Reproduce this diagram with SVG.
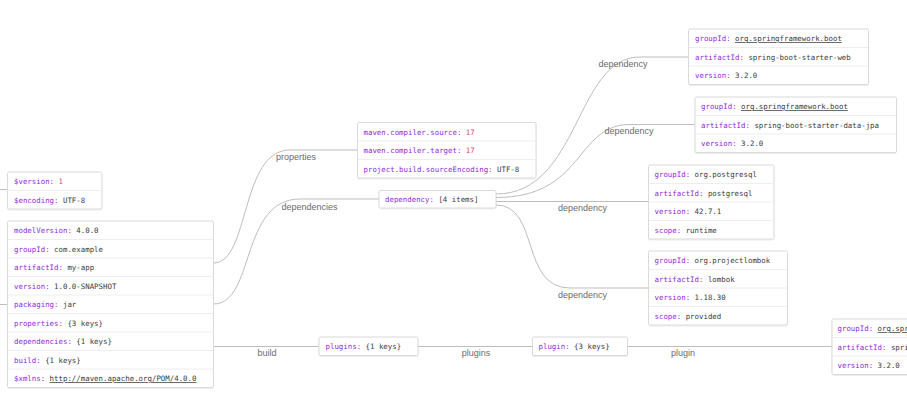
<svg xmlns="http://www.w3.org/2000/svg" width="907" height="414" viewBox="0 0 907 414">
<defs>
<filter id="sh" x="-5%" y="-5%" width="110%" height="120%">
<feDropShadow dx="0" dy="0.6" stdDeviation="0.6" flood-color="#000" flood-opacity="0.12"/>
</filter>
</defs>
<style>
.box{fill:#fff;stroke:#dadada;stroke-width:1;filter:url(#sh)}
.div{stroke:#eeeeee;stroke-width:1}
.t{font-family:"DejaVu Sans Mono","Liberation Mono",monospace;font-size:7.4px;fill:#3a3a3a}
.k{fill:#9128e0}
.n{fill:#e8437a}
.u{text-decoration:underline}
.e{fill:none;stroke:#bdbdbd;stroke-width:1}
.l{font-family:"Liberation Sans","DejaVu Sans",sans-serif;font-size:9px;fill:#6b6b6b;text-anchor:middle}
</style>
<rect width="907" height="414" fill="#fff"/>
<g id="connectors">
<path class="e" d="M0,189.5 L7.5,189.5"/>
<path class="e" d="M0,304.5 L7.5,304.5"/>
<path class="e" d="M213.5,263 C250,263 240,150 290,150 L357.5,150"/>
<path class="e" d="M213.5,304 C255,304 240,199 300,199 L379,199"/>
<path class="e" d="M213.5,346.5 L319,346.5"/>
<path class="e" d="M418,346.5 L532.5,346.5"/>
<path class="e" d="M627.5,346.5 L832,346.5"/>
<path class="e" d="M496,194 C580,194 575,57 640,57 L688.5,57"/>
<path class="e" d="M496,197.5 C585,197.5 575,124.5 630,124.5 L695,124.5"/>
<path class="e" d="M496,201.5 L648.5,201.5"/>
<path class="e" d="M496,205 C540,205 520,288 570,288 L648.5,288"/>
<text class="l" x="296" y="160">properties</text>
<text class="l" x="309.5" y="210">dependencies</text>
<text class="l" x="623" y="67">dependency</text>
<text class="l" x="629" y="134">dependency</text>
<text class="l" x="582.5" y="211">dependency</text>
<text class="l" x="582.5" y="298">dependency</text>
<text class="l" x="267" y="356">build</text>
<text class="l" x="476" y="356">plugins</text>
<text class="l" x="683" y="356">plugin</text>
</g>
<g id="node-version">
<rect class="box" x="7.5" y="172" width="94.5" height="37" rx="1.5"/>
<line class="div" x1="8" y1="190.5" x2="101.5" y2="190.5"/>
<text class="t" x="14" y="184"><tspan class="k">$version: </tspan><tspan class="n">1</tspan></text>
<text class="t" x="14" y="202.5"><tspan class="k">$encoding: </tspan>UTF-8</text>
</g>
<g id="node-project">
<rect class="box" x="7.5" y="221" width="206" height="166.5" rx="1.5"/>
<line class="div" x1="8" y1="239.5" x2="213" y2="239.5"/>
<line class="div" x1="8" y1="258" x2="213" y2="258"/>
<line class="div" x1="8" y1="276.5" x2="213" y2="276.5"/>
<line class="div" x1="8" y1="295" x2="213" y2="295"/>
<line class="div" x1="8" y1="313.5" x2="213" y2="313.5"/>
<line class="div" x1="8" y1="332" x2="213" y2="332"/>
<line class="div" x1="8" y1="350.5" x2="213" y2="350.5"/>
<line class="div" x1="8" y1="369" x2="213" y2="369"/>
<text class="t" x="14" y="233"><tspan class="k">modelVersion: </tspan>4.0.0</text>
<text class="t" x="14" y="251.5"><tspan class="k">groupId: </tspan>com.example</text>
<text class="t" x="14" y="270"><tspan class="k">artifactId: </tspan>my-app</text>
<text class="t" x="14" y="288.5"><tspan class="k">version: </tspan>1.0.0-SNAPSHOT</text>
<text class="t" x="14" y="307"><tspan class="k">packaging: </tspan>jar</text>
<text class="t" x="14" y="325.5"><tspan class="k">properties: </tspan>{3 keys}</text>
<text class="t" x="14" y="344"><tspan class="k">dependencies: </tspan>{1 keys}</text>
<text class="t" x="14" y="362.5"><tspan class="k">build: </tspan>{1 keys}</text>
<text class="t" x="14" y="381"><tspan class="k">$xmlns: </tspan><tspan class="u">http://maven.apache.org/POM/4.0.0</tspan></text>
</g>
<g id="node-properties">
<rect class="box" x="357.5" y="122.5" width="178.5" height="55.5" rx="1.5"/>
<line class="div" x1="358" y1="141" x2="535.5" y2="141"/>
<line class="div" x1="358" y1="159.5" x2="535.5" y2="159.5"/>
<text class="t" x="363.5" y="134.5"><tspan class="k">maven.compiler.source: </tspan><tspan class="n">17</tspan></text>
<text class="t" x="363.5" y="153"><tspan class="k">maven.compiler.target: </tspan><tspan class="n">17</tspan></text>
<text class="t" x="363.5" y="171.5"><tspan class="k">project.build.sourceEncoding: </tspan>UTF-8</text>
</g>
<g id="node-dependency">
<rect class="box" x="379" y="190.5" width="117" height="17.5" rx="1.5"/>
<text class="t" x="385" y="202"><tspan class="k">dependency: </tspan>[4 items]</text>
</g>
<g id="node-dep-web">
<rect class="box" x="688.5" y="29" width="180" height="55.5" rx="1.5"/>
<line class="div" x1="689" y1="47.5" x2="868" y2="47.5"/>
<line class="div" x1="689" y1="66" x2="868" y2="66"/>
<text class="t" x="695" y="41"><tspan class="k">groupId: </tspan><tspan class="u">org.springframework.boot</tspan></text>
<text class="t" x="695" y="59.5"><tspan class="k">artifactId: </tspan>spring-boot-starter-web</text>
<text class="t" x="695" y="78"><tspan class="k">version: </tspan>3.2.0</text>
</g>
<g id="node-dep-jpa">
<rect class="box" x="695" y="97" width="201.5" height="55.5" rx="1.5"/>
<line class="div" x1="695.5" y1="115.5" x2="896" y2="115.5"/>
<line class="div" x1="695.5" y1="134" x2="896" y2="134"/>
<text class="t" x="701" y="109"><tspan class="k">groupId: </tspan><tspan class="u">org.springframework.boot</tspan></text>
<text class="t" x="701" y="127.5"><tspan class="k">artifactId: </tspan>spring-boot-starter-data-jpa</text>
<text class="t" x="701" y="146"><tspan class="k">version: </tspan>3.2.0</text>
</g>
<g id="node-dep-postgresql">
<rect class="box" x="648.5" y="165" width="125.5" height="74" rx="1.5"/>
<line class="div" x1="649" y1="183.5" x2="773.5" y2="183.5"/>
<line class="div" x1="649" y1="202" x2="773.5" y2="202"/>
<line class="div" x1="649" y1="220.5" x2="773.5" y2="220.5"/>
<text class="t" x="654.5" y="177"><tspan class="k">groupId: </tspan>org.postgresql</text>
<text class="t" x="654.5" y="195.5"><tspan class="k">artifactId: </tspan>postgresql</text>
<text class="t" x="654.5" y="214"><tspan class="k">version: </tspan>42.7.1</text>
<text class="t" x="654.5" y="232.5"><tspan class="k">scope: </tspan>runtime</text>
</g>
<g id="node-dep-lombok">
<rect class="box" x="648.5" y="251" width="139" height="74" rx="1.5"/>
<line class="div" x1="649" y1="269.5" x2="787" y2="269.5"/>
<line class="div" x1="649" y1="288" x2="787" y2="288"/>
<line class="div" x1="649" y1="306.5" x2="787" y2="306.5"/>
<text class="t" x="654.5" y="263"><tspan class="k">groupId: </tspan>org.projectlombok</text>
<text class="t" x="654.5" y="281.5"><tspan class="k">artifactId: </tspan>lombok</text>
<text class="t" x="654.5" y="300"><tspan class="k">version: </tspan>1.18.30</text>
<text class="t" x="654.5" y="318.5"><tspan class="k">scope: </tspan>provided</text>
</g>
<g id="node-plugins">
<rect class="box" x="319" y="337" width="99" height="18.5" rx="1.5"/>
<text class="t" x="325.5" y="349"><tspan class="k">plugins: </tspan>{1 keys}</text>
</g>
<g id="node-plugin">
<rect class="box" x="532.5" y="337" width="95" height="18.5" rx="1.5"/>
<text class="t" x="538.5" y="349"><tspan class="k">plugin: </tspan>{3 keys}</text>
</g>
<g id="node-plugin-maven">
<rect class="box" x="832" y="319" width="200" height="55.5" rx="1.5"/>
<line class="div" x1="832.5" y1="337.5" x2="1031.5" y2="337.5"/>
<line class="div" x1="832.5" y1="356" x2="1031.5" y2="356"/>
<text class="t" x="837.5" y="331"><tspan class="k">groupId: </tspan><tspan class="u">org.springframework.boot</tspan></text>
<text class="t" x="837.5" y="349.5"><tspan class="k">artifactId: </tspan>spring-boot-maven-plugin</text>
<text class="t" x="837.5" y="368"><tspan class="k">version: </tspan>3.2.0</text>
</g>
</svg>
